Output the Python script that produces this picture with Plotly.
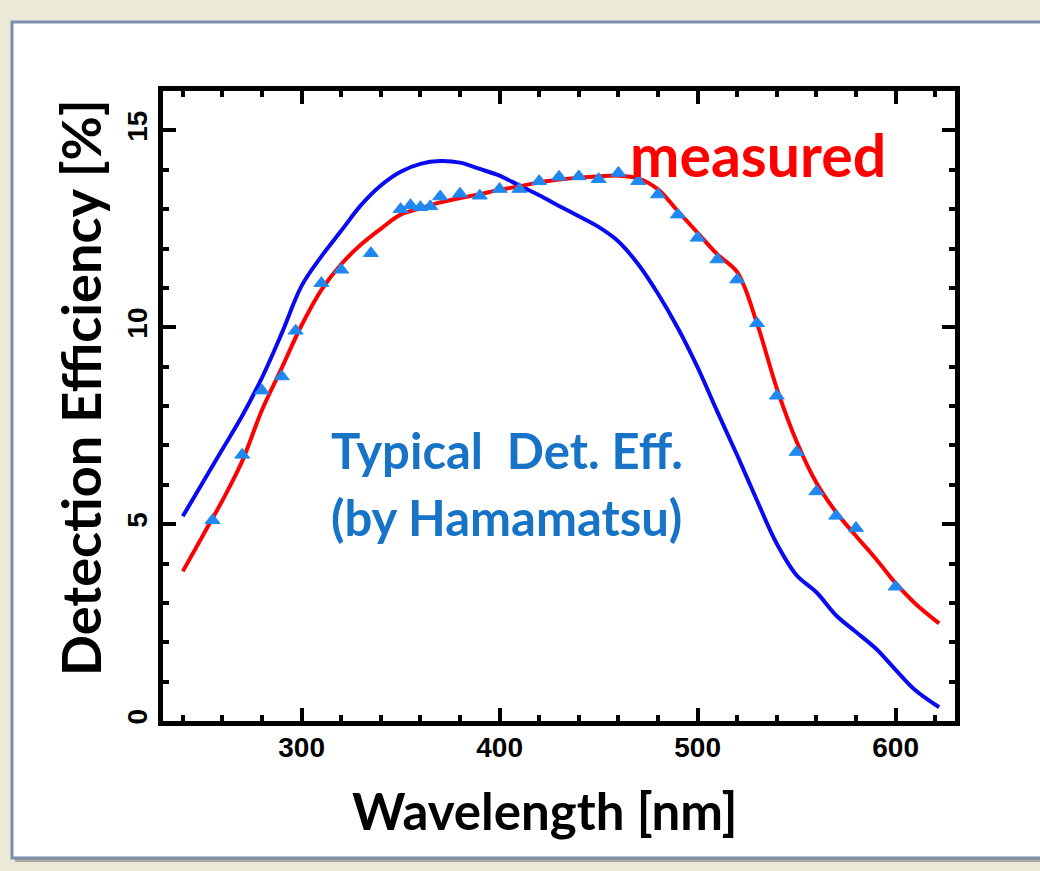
import plotly.graph_objects as go

# Typical detection efficiency curve (Hamamatsu)
wl_typical = [240, 250, 260, 270, 280, 290, 300, 310, 320, 330, 340, 350, 360, 370, 380,
              390, 400, 410, 420, 430, 440, 450, 460, 470, 480, 490, 500, 510, 520, 530,
              540, 550, 560, 570, 580, 590, 600, 610, 622]
eff_typical = [5.2, 6.05, 6.9, 7.75, 8.72, 9.85, 11.05, 11.8, 12.45, 13.1, 13.6, 13.95, 14.15, 14.22, 14.18,
               14.02, 13.85, 13.6, 13.35, 13.08, 12.82, 12.55, 12.18, 11.6, 10.85, 9.98, 8.98, 7.85, 6.75, 5.6,
               4.5, 3.7, 3.27, 2.68, 2.26, 1.84, 1.3, 0.78, 0.35]

# Fitted curve through the measured points
wl_fit = [240, 250, 260, 270, 280, 290, 300, 310, 320, 330, 340, 350, 360, 370, 380,
          390, 400, 410, 420, 430, 440, 450, 460, 470, 480, 490, 500, 510, 520, 530,
          540, 550, 560, 570, 580, 590, 600, 610, 622]
eff_fit = [3.8, 4.7, 5.6, 6.6, 7.9, 8.97, 10.05, 10.95, 11.6, 12.1, 12.5, 12.86, 13.02, 13.17, 13.28,
           13.38, 13.49, 13.58, 13.68, 13.75, 13.8, 13.83, 13.85, 13.78, 13.5, 12.95, 12.4, 11.85, 11.4, 10.1,
           8.45, 7.1, 6.05, 5.3, 4.7, 4.12, 3.5, 2.98, 2.48]

# Measured detection efficiency
wl_meas = [255, 270, 280, 290, 297, 310, 320, 335, 350, 355, 360, 365, 370, 380, 390, 400,
           410, 420, 430, 440, 450, 460, 470, 480, 490, 500, 510, 520, 530, 540, 550, 560,
           570, 580, 600]
eff_meas = [5.1, 6.76, 8.39, 8.75, 9.91, 11.12, 11.46, 11.88, 13.0, 13.1, 13.05, 13.07, 13.32, 13.39, 13.34, 13.51,
            13.51, 13.71, 13.82, 13.83, 13.76, 13.92, 13.71, 13.37, 12.86, 12.27, 11.72, 11.21, 10.1, 8.26, 6.83, 5.83,
            5.21, 4.9, 3.41]

x_range = [230, 630]
y_range = [0, 16]
x_major = [300, 400, 500, 600]
y_major = [0, 5, 10, 15]

W, H = 1040, 871
ML, MR, MT, MB = 163, 85, 91, 150
PW, PH = W - ML - MR, H - MT - MB


def px_x(p):
    return (p - ML) / PW


def px_y(p):
    return 1 - (p - MT) / PH


fig = go.Figure()

fig.add_trace(go.Scatter(x=wl_typical, y=eff_typical, mode="lines",
                         line=dict(color="#0A0AF0", width=4, shape="spline", smoothing=1.0),
                         showlegend=False))
fig.add_trace(go.Scatter(x=wl_fit, y=eff_fit, mode="lines",
                         line=dict(color="#FF0000", width=4, shape="spline", smoothing=1.0),
                         showlegend=False))
fig.add_trace(go.Scatter(x=wl_meas, y=eff_meas, mode="markers",
                         marker=dict(symbol="triangle-up", size=13, color="#1E88F0",
                                     line=dict(color="#1E88F0", width=1)),
                         showlegend=False))

axis_common = dict(
    showline=True, linewidth=5, linecolor="black", mirror="allticks",
    ticks="inside", ticklen=13, tickwidth=3.5, tickcolor="black",
    showgrid=False, zeroline=False,
    tickfont=dict(family="Liberation Sans", size=28, color="black", weight="bold"),
)

fig.update_xaxes(range=x_range, tickvals=x_major, ticktext=[str(v) for v in x_major],
                 minor=dict(tickvals=list(range(240, 630, 20)), ticks="inside", ticklen=6,
                            tickwidth=3.5, tickcolor="black"),
                 ticklabelstandoff=-3, **axis_common)
fig.update_yaxes(range=y_range, tickvals=y_major, ticktext=[str(v) for v in y_major],
                 minor=dict(tickvals=list(range(0, 17)), ticks="inside", ticklen=6,
                            tickwidth=3.5, tickcolor="black"),
                 tickangle=-90, ticklabelstandoff=0, **axis_common)

# window panel with drop shadow
shapes = [
    dict(type="rect", xref="paper", yref="paper", layer="below",
         x0=px_x(15), x1=px_x(1060), y0=px_y(862), y1=px_y(26),
         fillcolor="#A8A8A4", line=dict(width=0)),
    dict(type="rect", xref="paper", yref="paper", layer="below",
         x0=px_x(12), x1=px_x(1060), y0=px_y(858), y1=px_y(22),
         fillcolor="white", line=dict(color="#7D8DAA", width=3)),
]

annotations = [
    dict(text="Wavelength [nm]", xref="paper", yref="paper", x=px_x(545), y=px_y(810),
         xanchor="center", yanchor="middle", showarrow=False,
         font=dict(family="Lato", size=51, color="black", weight="bold")),
    dict(text="Detection Efficiency [%]", xref="paper", yref="paper", x=px_x(80), y=px_y(388),
         xanchor="center", yanchor="middle", textangle=-90, showarrow=False,
         font=dict(family="Lato", size=54, color="black", weight="bold")),
    dict(text="measured", xref="x", yref="y", x=465, y=14.38,
         xanchor="left", yanchor="middle", showarrow=False,
         font=dict(family="Lato", size=59, color="#FF0000", weight="bold")),
    dict(text="Typical  Det. Eff.", xref="x", yref="y", x=314, y=6.88,
         xanchor="left", yanchor="middle", showarrow=False,
         font=dict(family="Lato", size=49, color="#1673C6", weight="bold")),
    dict(text="(by Hamamatsu)", xref="x", yref="y", x=314, y=5.18,
         xanchor="left", yanchor="middle", showarrow=False,
         font=dict(family="Lato", size=49, color="#1673C6", weight="bold")),
]

fig.update_layout(
    width=W, height=H,
    margin=dict(l=ML, r=MR, t=MT, b=MB),
    paper_bgcolor="#ECE9D8", plot_bgcolor="white",
    shapes=shapes, annotations=annotations,
)

fig.write_html("out.html")
